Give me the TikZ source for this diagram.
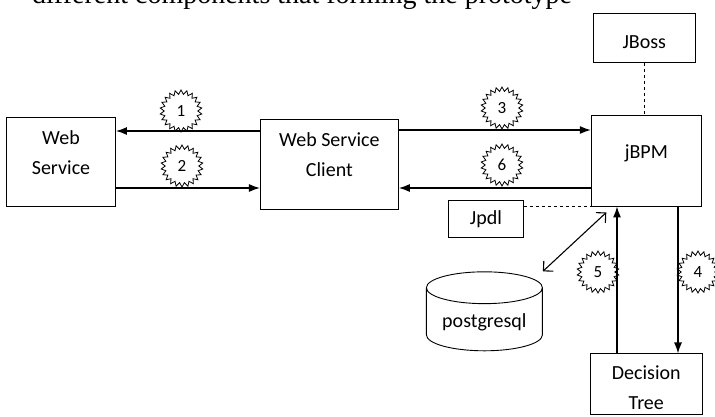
\documentclass[tikz,border=0pt]{standalone}
\usepackage{fontspec}
\setmainfont{Carlito}
\newfontfamily\bodyserif{Liberation Serif}
\usetikzlibrary{shapes,arrows.meta,positioning}
\tikzstyle{block} = [draw, fill=white, rectangle, line width=0.9pt, align=center,
font=\fontsize{20}{30}\selectfont]
\tikzstyle{marker} = [draw, star, star points=22, star point ratio=1.25,
minimum size=42pt, inner sep=0pt, line width=0.8pt, font=\fontsize{17}{17}\selectfont]
\tikzstyle{link} = [->, line width=1.3pt]
\tikzstyle{dashlink} = [dashed, line width=0.9pt]
\tikzstyle{dbstore} = [draw, cylinder, shape border rotate=90, aspect=0.35,
line width=0.9pt, font=\fontsize{20}{30}\selectfont]

\begin{document}
\begin{tikzpicture}[x=1pt, y=-1pt, >={Latex[length=11pt,width=8pt]}]
		\useasboundingbox (0,0) rectangle (715,416);
		\node(caption)[anchor=base west, inner sep=0pt, font=\bodyserif\fontsize{28}{32}\selectfont] at (32,3) {different components that forming the prototype};
		
		\node(ws)[block, minimum width=109pt, minimum height=89pt, text depth=17pt] at (61,161.5) {Web\\Service};
		\node(wsc)[block, right=144pt of ws, yshift=-2.5pt, minimum width=138pt, minimum height=90pt, text depth=19pt]{Web Service\\Client};
		\node(jbpm)[block, right=192pt of wsc, yshift=3.5pt, minimum width=110pt, minimum height=91pt, text depth=18pt]{jBPM};
		\node(jboss)[block, above=52pt of jbpm, xshift=-2pt, minimum width=102pt, minimum height=49pt, text height=22pt]{JBoss};
		\node(jpdl)[block, anchor=north east, minimum width=75pt, minimum height=37pt] at ([shift={(-67pt,6pt)}]jbpm.south west) {Jpdl};
		\node(dtree)[block, below=147pt of jbpm, minimum width=112pt, minimum height=61pt, text height=50pt]{Decision\\Tree};
		\node(db)[dbstore, below=33pt of jpdl, xshift=-1.5pt, minimum width=116pt, minimum height=79pt]{postgresql};
		
		% numbered steps
		\node(s1)[marker] at (181,111) {1};
		\node(s2)[marker] at (182,166) {2};
		\node(s3)[marker] at (502,108) {3};
		\node(s6)[marker] at (502,165) {6};
		\node(s5)[marker] at (598,272) {5};
		\node(s4)[marker] at (698,272) {4};
		
		\draw[link] (wsc.west |- 0,131) -- (ws.east |- 0,131);
		\draw[link] (ws.east |- 0,188) -- (wsc.west |- 0,188);
		\draw[link] (wsc.east |- 0,130) -- (jbpm.west |- 0,130);
		\draw[link] (jbpm.west |- 0,188) -- (wsc.east |- 0,188);
		\draw[link] (jbpm.south -| 678,0) -- (dtree.north -| 678,0);
		\draw[link] (dtree.north -| 617,0) -- (jbpm.south -| 617,0);
		\draw[{Straight Barb[length=7pt,width=14pt]}-{Straight Barb[length=7pt,width=14pt]}, line width=1.1pt] (db.east |- db.north) -- ([shift={(-40pt,-6pt)}]jbpm.south);
		
		\draw[dashlink] (jboss.south) -- (jboss.south |- jbpm.north);
		\draw[dashlink] (jpdl.east |- jbpm.south west) -- (jbpm.south west);
\end{tikzpicture}
\end{document}
